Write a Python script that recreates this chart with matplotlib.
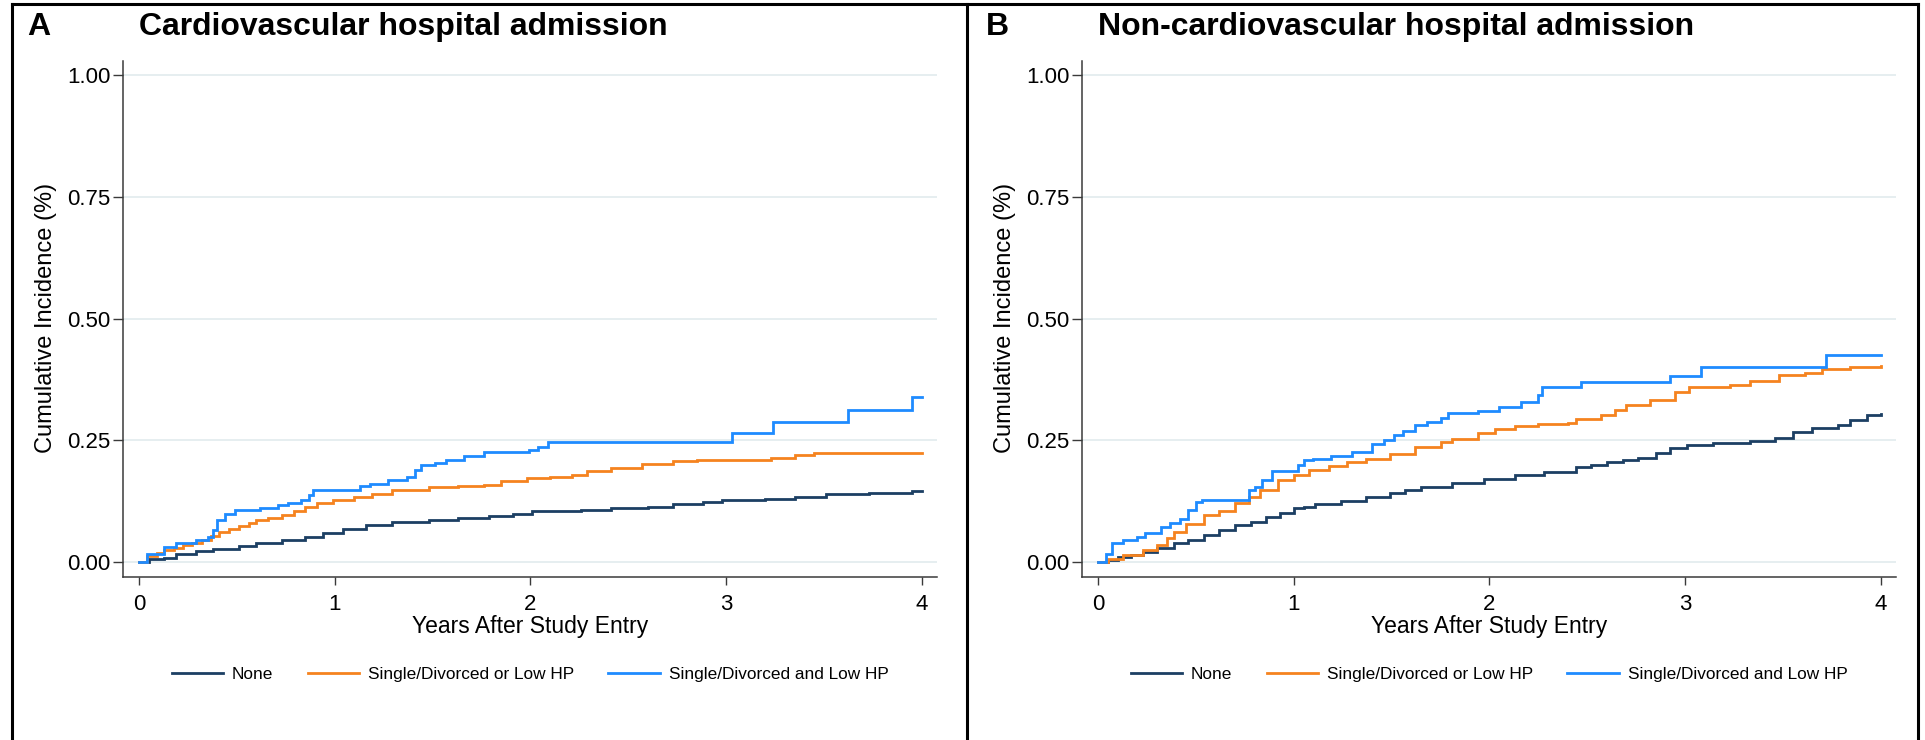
import numpy as np
import matplotlib
matplotlib.use('Agg')
import matplotlib.pyplot as plt
from matplotlib.lines import Line2D

plt.rcParams['font.family'] = ['Liberation Sans', 'DejaVu Sans']

group_labels = ['None', 'Single/Divorced or Low HP', 'Single/Divorced and Low HP']
group_colors = ['#1c3f63', '#f5831f', '#1e8bff']

# Panel A: cardiovascular hospital admission (step curves, years / cumulative incidence)
cv_none_t = [0, 0.05, 0.13, 0.19, 0.29, 0.38, 0.51, 0.60, 0.73, 0.85, 0.94, 1.04, 1.16, 1.29,
             1.48, 1.63, 1.79, 1.91, 2.01, 2.26, 2.41, 2.60, 2.73, 2.88, 2.98, 3.20, 3.35,
             3.51, 3.73, 3.95, 4.0]
cv_none_y = [0, 0.005, 0.009, 0.016, 0.023, 0.027, 0.033, 0.038, 0.045, 0.051, 0.060, 0.067,
             0.075, 0.081, 0.086, 0.091, 0.094, 0.099, 0.104, 0.106, 0.110, 0.113, 0.118,
             0.123, 0.128, 0.130, 0.134, 0.139, 0.142, 0.145, 0.145]

cv_or_t = [0, 0.04, 0.09, 0.13, 0.18, 0.225, 0.27, 0.32, 0.37, 0.41, 0.46, 0.51, 0.56, 0.60,
           0.66, 0.73, 0.79, 0.85, 0.91, 0.99, 1.10, 1.19, 1.29, 1.48, 1.63, 1.76, 1.85, 1.98,
           2.10, 2.21, 2.29, 2.41, 2.57, 2.73, 2.85, 3.23, 3.35, 3.45, 4.0]
cv_or_y = [0, 0.012, 0.018, 0.024, 0.029, 0.034, 0.039, 0.045, 0.053, 0.062, 0.068, 0.074,
           0.080, 0.086, 0.091, 0.097, 0.104, 0.112, 0.120, 0.128, 0.134, 0.140, 0.147, 0.153,
           0.155, 0.159, 0.166, 0.173, 0.175, 0.178, 0.187, 0.192, 0.202, 0.207, 0.210, 0.214,
           0.219, 0.224, 0.224]

cv_and_t = [0, 0.04, 0.13, 0.19, 0.29, 0.35, 0.38, 0.40, 0.44, 0.49, 0.62, 0.71, 0.76, 0.83,
            0.87, 0.89, 1.13, 1.18, 1.27, 1.37, 1.41, 1.44, 1.51, 1.57, 1.66, 1.76, 1.99,
            2.04, 2.09, 3.03, 3.24, 3.62, 3.95, 4.0]
cv_and_y = [0, 0.017, 0.031, 0.038, 0.046, 0.051, 0.065, 0.086, 0.099, 0.106, 0.110, 0.116,
            0.121, 0.128, 0.137, 0.147, 0.155, 0.161, 0.168, 0.175, 0.188, 0.199, 0.203,
            0.209, 0.217, 0.226, 0.229, 0.236, 0.247, 0.265, 0.288, 0.312, 0.339, 0.339]

# Panel B: non-cardiovascular hospital admission
ncv_none_t = [0, 0.05, 0.10, 0.17, 0.23, 0.30, 0.39, 0.46, 0.54, 0.62, 0.70, 0.78, 0.86, 0.93,
              1.0, 1.05, 1.11, 1.24, 1.37, 1.49, 1.57, 1.65, 1.81, 1.97, 2.13, 2.28, 2.44,
              2.52, 2.60, 2.68, 2.76, 2.85, 2.92, 3.01, 3.14, 3.33, 3.46, 3.55, 3.65, 3.78,
              3.84, 3.93, 4.0]
ncv_none_y = [0, 0.004, 0.010, 0.015, 0.021, 0.028, 0.038, 0.046, 0.055, 0.065, 0.075, 0.083,
              0.092, 0.101, 0.110, 0.113, 0.118, 0.125, 0.134, 0.142, 0.148, 0.154, 0.162,
              0.171, 0.178, 0.185, 0.194, 0.199, 0.205, 0.210, 0.214, 0.223, 0.233, 0.240,
              0.245, 0.249, 0.255, 0.267, 0.276, 0.281, 0.291, 0.301, 0.303]

ncv_or_t = [0, 0.05, 0.13, 0.23, 0.30, 0.35, 0.39, 0.45, 0.54, 0.62, 0.70, 0.77, 0.83, 0.92,
            1.0, 1.08, 1.18, 1.27, 1.37, 1.49, 1.62, 1.75, 1.81, 1.94, 2.03, 2.13, 2.25,
            2.40, 2.44, 2.57, 2.64, 2.70, 2.82, 2.95, 3.02, 3.23, 3.33, 3.48, 3.61, 3.70,
            3.84, 4.0]
ncv_or_y = [0, 0.007, 0.014, 0.024, 0.035, 0.050, 0.062, 0.078, 0.096, 0.105, 0.120, 0.133,
            0.147, 0.168, 0.178, 0.188, 0.197, 0.205, 0.212, 0.222, 0.236, 0.247, 0.253,
            0.264, 0.274, 0.279, 0.284, 0.285, 0.294, 0.301, 0.312, 0.322, 0.332, 0.350,
            0.360, 0.364, 0.371, 0.383, 0.388, 0.397, 0.401, 0.402]

ncv_and_t = [0, 0.04, 0.07, 0.13, 0.20, 0.24, 0.32, 0.37, 0.42, 0.46, 0.50, 0.53, 0.77, 0.80,
             0.84, 0.89, 1.02, 1.05, 1.10, 1.19, 1.30, 1.40, 1.46, 1.51, 1.56, 1.62, 1.68,
             1.75, 1.79, 1.94, 2.05, 2.16, 2.25, 2.27, 2.47, 2.92, 3.08, 3.72, 4.0]
ncv_and_y = [0, 0.017, 0.038, 0.046, 0.051, 0.060, 0.072, 0.079, 0.089, 0.106, 0.123, 0.128,
             0.147, 0.154, 0.168, 0.187, 0.199, 0.209, 0.212, 0.217, 0.226, 0.243, 0.250,
             0.260, 0.269, 0.281, 0.288, 0.295, 0.305, 0.311, 0.318, 0.329, 0.342, 0.360,
             0.369, 0.381, 0.401, 0.426, 0.426]

panels = [
    ('A', 'Cardiovascular hospital admission',
     [(cv_none_t, cv_none_y), (cv_or_t, cv_or_y), (cv_and_t, cv_and_y)]),
    ('B', 'Non-cardiovascular hospital admission',
     [(ncv_none_t, ncv_none_y), (ncv_or_t, ncv_or_y), (ncv_and_t, ncv_and_y)]),
]

W, H = 1925, 740
fig = plt.figure(figsize=(W / 100, H / 100), dpi=100)
fig.patch.set_facecolor('white')

# pixel layout of each panel (left edge of the plot area)
offsets = [123, 1082]
ax_w, ax_top, ax_bot = 814, 61, 577

for (letter, title, curves), x0 in zip(panels, offsets):
    ax = fig.add_axes([x0 / W, (H - ax_bot) / H, ax_w / W, (ax_bot - ax_top) / H])

    for (t, y), col in zip(curves, group_colors):
        ax.plot(t, y, drawstyle='steps-post', color=col, lw=2.0, solid_joinstyle='miter')

    ax.set_xlim(-0.082, 4.077)
    ax.set_ylim(-0.031, 1.029)
    ax.set_xticks([0, 1, 2, 3, 4])
    ax.set_yticks([0, 0.25, 0.5, 0.75, 1.0])
    ax.set_yticklabels(['%.2f' % v for v in [0, 0.25, 0.5, 0.75, 1.0]])
    ax.grid(axis='y', color='#e6eef0', lw=1.4)
    ax.set_axisbelow(True)

    for side in ['top', 'right']:
        ax.spines[side].set_visible(False)
    for side in ['left', 'bottom']:
        ax.spines[side].set_color('#3a3a3a')
        ax.spines[side].set_linewidth(1.1)
    ax.tick_params(axis='y', length=7, width=1.0, pad=2, labelsize=16, color='#3a3a3a')
    ax.tick_params(axis='x', length=6, width=1.0, pad=6, labelsize=16, color='#3a3a3a')

    # panel letter and title
    fig.text((x0 - 96) / W, 1 - 27 / H, letter, fontsize=23, fontweight='bold',
             ha='left', va='center')
    fig.text((x0 + 16) / W, 1 - 27 / H, title, fontsize=23, fontweight='bold',
             ha='left', va='center')

    cx = (x0 + ax_w / 2) / W
    fig.text((x0 - 77) / W, 1 - 318 / H, 'Cumulative Incidence (%)', fontsize=17,
             rotation=90, ha='center', va='center')
    fig.text(cx, 1 - 626 / H, 'Years After Study Entry', fontsize=16.5,
             ha='center', va='center')

    handles = [Line2D([], [], color=c, lw=2.0) for c in group_colors]
    fig.legend(handles, group_labels, loc='center', bbox_to_anchor=(cx, 1 - 674 / H),
               ncol=3, frameon=False, fontsize=12.4, handlelength=3.0,
               handletextpad=0.5, columnspacing=2.0)

# panel frames
frame = dict(color='black', lw=2.2, transform=fig.transFigure, clip_on=False)
fig.add_artist(Line2D([12 / W, 1918 / W], [1 - 4 / H, 1 - 4 / H], **frame))
fig.add_artist(Line2D([12 / W, 12 / W], [0, 1 - 4 / H], **frame))
fig.add_artist(Line2D([967 / W, 967 / W], [0, 1 - 4 / H], **frame))
fig.add_artist(Line2D([1918 / W, 1918 / W], [0, 1 - 4 / H], **frame))

plt.savefig('out.png', dpi=100)
plt.close(fig)
